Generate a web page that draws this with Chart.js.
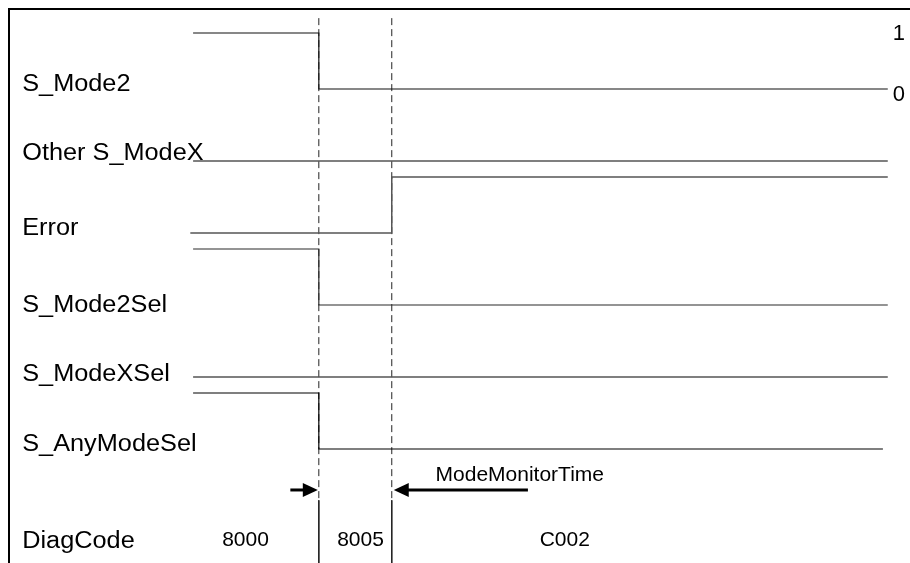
<!DOCTYPE html>
<html><head><meta charset="utf-8">
<script src="https://cdn.jsdelivr.net/npm/chart.js@4/dist/chart.umd.min.js"></script>
<style>html,body{margin:0;padding:0;background:#fff;}canvas{display:block;}</style>
</head><body>
<canvas id="c" width="910" height="563"></canvas>
<script>
// ---------- data ----------
const signalNames = ['S_Mode2', 'Other S_ModeX', 'Error', 'S_Mode2Sel', 'S_ModeXSel', 'S_AnyModeSel'];
const edgeTimes   = [0, 18.1, 28.6, 100];      // time of each level change
const sMode2      = [1, 0, 0, 0];
const otherSModeX = [0, 0, 0, 0];
const errorSig    = [0, 0, 1, 1];
const sMode2Sel   = [1, 0, 0, 0];
const sModeXSel   = [0, 0, 0, 0];
const sAnyModeSel = [1, 0, 0, 0];
const signalStart = [0, 0, -0.4, 0, 0, 0];
const signalEnd   = [100, 100, 100, 100, 100, 99.3];
const levelLabels = ['1', '0'];
const markerTimes = [18.1, 28.6];
const diagCodeName = 'DiagCode';
const diagCodes = ['8000', '8005', 'C002'];
const diagCodeTimes = [7.55, 24.1, 53.5];
const monitorLabel = 'ModeMonitorTime';
const monitorArrowTails = [14.0, 48.2];

// ---------- layout ----------
const allLevels = [sMode2, otherSModeX, errorSig, sMode2Sel, sModeXSel, sAnyModeSel];
const laneTop = 8.464, laneStep = 1.2857;
const laneY = k => laneTop - laneStep * k;
const labelLift = [0.12, 0.16, 0.12, 0.02, 0.07, 0.11];
const markerTopV = 9.73, dashEndV = 1.12;
const signalColors = ['#111111', '#555555', '#555555', '#2a2a2a', '#555555', '#000000'];
const signalWidths = [1.2, 1.5, 1.5, 1.2, 1.5, 1.2];
const FONT = "'Liberation Sans', Arial, sans-serif";

const datasets = [];
allLevels.forEach((lv, k) => {
  const last = edgeTimes.length - 1;
  datasets.push({
    label: signalNames[k],
    data: edgeTimes.map((t, i) => ({
      x: i === 0 ? signalStart[k] : (i === last ? signalEnd[k] : t),
      y: laneY(k) + lv[i]
    })),
    stepped: 'before',
    borderColor: signalColors[k],
    borderWidth: signalWidths[k],
    pointRadius: 0,
    fill: false
  });
});
markerTimes.forEach(t => {
  datasets.push({
    data: [{x: t, y: markerTopV}, {x: t, y: dashEndV}],
    borderColor: '#222222', borderWidth: 1, borderDash: [7, 4],
    pointRadius: 0, fill: false
  });
  datasets.push({
    data: [{x: t, y: dashEndV}, {x: t, y: 0}],
    borderColor: '#222222', borderWidth: 1,
    pointRadius: 0, fill: false
  });
});

const textPlugin = {
  id: 'timingText',
  afterDatasetsDraw(chart) {
    const ctx = chart.ctx, xs = chart.scales.x, ys = chart.scales.y;
    const X = v => xs.getPixelForValue(v), Y = v => ys.getPixelForValue(v);
    ctx.save();
    ctx.fillStyle = '#000';
    ctx.textBaseline = 'alphabetic';
    const drawWide = (txt, x, cy, size, sx) => {
      ctx.save();
      ctx.font = size + 'px ' + FONT;
      ctx.translate(x, cy + 0.358 * size);
      ctx.scale(sx, 1);
      ctx.textAlign = 'left';
      ctx.fillText(txt, 0, 0);
      ctx.restore();
    };
    signalNames.forEach((n, k) => drawWide(n, X(-24.6), Y(laneY(k) + labelLift[k]), 23, 1.1));
    drawWide(diagCodeName, X(-24.6), Y(0.41), 23, 1.1);
    ctx.font = '22px ' + FONT;
    ctx.textAlign = 'center';
    ctx.fillText(levelLabels[0], X(101.6), Y(laneY(0) + 1.02) + 0.358 * 22);
    ctx.fillText(levelLabels[1], X(101.6), Y(laneY(0) - 0.07) + 0.358 * 22);
    ctx.font = '21px ' + FONT;
    diagCodes.forEach((c, i) => ctx.fillText(c, X(diagCodeTimes[i]), Y(0.43) + 0.358 * 21));
    ctx.textAlign = 'left';
    ctx.fillText(monitorLabel, X(34.9), Y(1.59) + 0.358 * 21);
    const ay = Y(1.304);
    ctx.strokeStyle = '#000';
    ctx.lineWidth = 3;
    const tip1 = X(markerTimes[0]) - 1, tip2 = X(markerTimes[1]) + 2;
    ctx.beginPath(); ctx.moveTo(X(monitorArrowTails[0]), ay); ctx.lineTo(tip1 - 12, ay); ctx.stroke();
    ctx.beginPath(); ctx.moveTo(tip1, ay); ctx.lineTo(tip1 - 15, ay - 7); ctx.lineTo(tip1 - 15, ay + 7); ctx.closePath(); ctx.fill();
    ctx.beginPath(); ctx.moveTo(X(monitorArrowTails[1]), ay); ctx.lineTo(tip2 + 12, ay); ctx.stroke();
    ctx.beginPath(); ctx.moveTo(tip2, ay); ctx.lineTo(tip2 + 15, ay - 7); ctx.lineTo(tip2 + 15, ay + 7); ctx.closePath(); ctx.fill();
    ctx.restore();
  }
};

new Chart(document.getElementById('c'), {
  type: 'line',
  data: { datasets },
  options: {
    responsive: false, animation: false, devicePixelRatio: 1,
    layout: { padding: { left: 1, top: 1, right: 0, bottom: 0 } },
    plugins: { legend: { display: false }, tooltip: { enabled: false } },
    elements: { line: { tension: 0 }, point: { radius: 0 } },
    scales: {
      x: { type: 'linear', position: 'top', min: -26.5, max: 103.2,
           grid: { display: false }, ticks: { display: false },
           border: { display: true, color: '#000', width: 2 } },
      y: { type: 'linear', position: 'left', min: 0, max: 9.893,
           grid: { display: false }, ticks: { display: false },
           border: { display: true, color: '#000', width: 2 } }
    }
  },
  plugins: [textPlugin]
});
</script>
</body></html>
